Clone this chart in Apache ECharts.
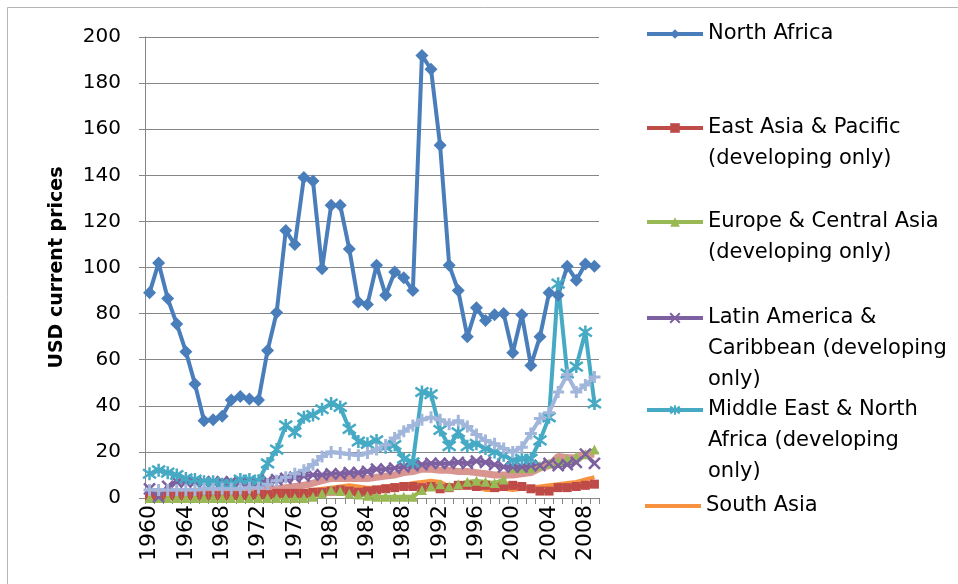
<!DOCTYPE html>
<html>
<head>
<meta charset="utf-8">
<script src="https://cdn.jsdelivr.net/npm/echarts@6/dist/echarts.min.js"></script>
<style>
  html, body { margin: 0; padding: 0; background: #fff; }
  #chart { width: 958px; height: 584px; }
</style>
</head>
<body>
<div id="chart"></div>
<script>
// years on the x axis
let years = ['1960','1961','1962','1963','1964','1965','1966','1967','1968','1969',
    '1970','1971','1972','1973','1974','1975','1976','1977','1978','1979',
    '1980','1981','1982','1983','1984','1985','1986','1987','1988','1989',
    '1990','1991','1992','1993','1994','1995','1996','1997','1998','1999',
    '2000','2001','2002','2003','2004','2005','2006','2007','2008','2009'];

let yTicks = [0, 20, 40, 60, 80, 100, 120, 140, 160, 180, 200];

// series values (USD current prices)
let northAfrica = [89, 102, 86.5, 75.5, 63.5, 49.5, 33.5, 34, 35.5, 42.5,
    44, 43, 42.5, 64, 80.5, 116, 110, 139, 137.5, 99.5,
    127, 127, 108, 85, 84, 101, 88, 98, 95.5, 90,
    192, 186, 153, 101, 90, 70, 82.5, 77, 79.5, 80,
    63, 79.5, 57.5, 70, 89, 88, 100.5, 94.5, 101.5, 100.5];
let eastAsia = [1, 0.5, 1, 1, 1, 1, 1, 1, 1, 1,
    1, 1, 1.5, 1.5, 2, 2, 2, 2, 2.5, 2.5,
    3, 3.5, 3, 2.5, 3, 3.5, 4, 4.5, 5, 5,
    4.5, 5, 4, 4.5, 5.5, 5.5, 5, 5.5, 4.5, 5,
    5.5, 5, 4, 3, 3, 4.5, 4.5, 5, 5.5, 6];
let europe = [0, 0, 0, 0, 0, 0, 0, 0, 0, 0,
    0, 0, 0, 0, 0, 0, 0, 0, 0.5, 2,
    3.5, 3, 2, 1.5, 1, 0.5, 0.5, 0.5, 0.5, 0.5,
    3.5, 5, 6, 5, 6, 7, 7.5, 7, 6.5, 8,
    13, 13, 13, 14, 15, 16, 17, 18, 19, 21];
let latinAmerica = [4, 0.5, 5, 7, 7, 7, 7, 7, 7, 7,
    7, 7, 7, 7.5, 8, 8.5, 9, 9.5, 10, 10,
    10.5, 10.5, 11, 11, 11.5, 12.5, 12.5, 13, 13.5, 14,
    14.5, 15, 15, 15, 15.5, 15, 16, 15.5, 14.5, 13.5,
    13.5, 13.5, 14, 14, 15, 14, 14.5, 15.5, 19, 15];
let middleEast = [10.5, 12, 11, 10, 8.5, 8, 7, 7, 6, 6,
    8, 8, 7.5, 15, 21, 31.5, 28.5, 35, 36, 38.5,
    41, 39.5, 30, 24.5, 23.5, 25, 22, 23, 17, 15.5,
    46, 45, 29.5, 22.5, 28.5, 22.5, 23.5, 21.5, 20, 18.5,
    16.5, 17, 17, 25, 35, 93, 54, 57, 72, 41];
let southAsia = [1.5, 1.5, 1.5, 1.5, 1.5, 1.5, 1.5, 1.5, 1.5, 1.5,
    1.5, 1.5, 2, 2, 2.5, 2.5, 3, 3, 3.5, 4,
    4.5, 5, 5.5, 5, 4.5, 4.5, 5, 5.5, 5.5, 6.5,
    7, 7.5, 7, 5, 5, 5.5, 4.5, 3.5, 3.5, 4,
    3.5, 4, 4.5, 5, 5.5, 6, 6.5, 7, 8, 9];
// two more series drawn in the plot but cut off from the legend
let series7 = [3.5, 3.5, 3.5, 3.5, 3.5, 3.5, 4, 4, 4, 4,
    4, 4.5, 4.5, 6, 7.5, 9, 10.5, 12, 14.5, 18,
    20, 19.5, 19, 18.5, 19.5, 21, 23, 26, 29, 31.5,
    34, 35, 34, 32, 33.5, 31, 27.5, 25, 23.5, 21.5,
    20, 22, 28, 34.5, 37, 46, 53.5, 46, 49, 52.5];
let series8 = [2, 2, 2, 2, 2.5, 2.5, 2.5, 2.5, 2.5, 2.5,
    2.5, 2.5, 3, 3.5, 4, 4.5, 5, 5.5, 6.5, 7.5,
    8.5, 8.5, 8.5, 8.5, 8.5, 9, 9.5, 10, 11, 11.5,
    12.5, 12.5, 12, 12, 11.5, 11.5, 11, 10.5, 10, 10,
    10, 10.5, 11, 13, 14, 18, 17.5, 17.5, 19, 19];

let seriesNames = ['North Africa', 'East Asia & Pacific (developing only)',
    'Europe & Central Asia (developing only)', 'Latin America & Caribbean (developing only)',
    'Middle East & North Africa (developing only)', 'South Asia'];
// legend text as it wraps in the picture
let legendLines = [
    ['North Africa'],
    ['East Asia & Pacific', '(developing only)'],
    ['Europe & Central Asia', '(developing only)'],
    ['Latin America &', 'Caribbean (developing', 'only)'],
    ['Middle East & North', 'Africa (developing', 'only)'],
    ['South Asia']
];

const FONT = '"DejaVu Sans", sans-serif';
const LH = 31;
const xSym = 'path://M0,0L10,10M10,0L0,10';
const starSym = 'path://M5,0L5,10M0,1.5L10,8.5M10,1.5L0,8.5';
const plusSym = 'path://M5,0L5,10M0,5L10,5';
const bareLine = 'path://M0,4L55,4L55,8L0,8Z';

function lineSeries(name, data, color, symbol, size, extra) {
    let s = {
        name: name,
        type: 'line',
        data: data,
        color: color,
        symbol: symbol,
        symbolSize: size,
        showSymbol: symbol !== 'none',
        showAllSymbol: true,
        lineStyle: { width: 4, color: color },
        itemStyle: { color: color },
        animation: false,
        z: 2
    };
    return Object.assign(s, extra || {});
}

function strokeSym(color, w) {
    return { itemStyle: { color: color, borderColor: color, borderWidth: w } };
}

const iconY = [34, 128, 222, 318, 410, 506];
let legends = seriesNames.map(function (name, i) {
    let n = legendLines[i].length;
    let item = { name: name };
    if (name === 'South Asia') item.icon = bareLine;
    return {
        data: [item],
        orient: 'vertical',
        left: 645,
        top: iconY[i] - (2 * n - 1) * LH / 2,
        padding: 0,
        itemWidth: 56,
        itemHeight: 12,
        itemGap: 0,
        selectedMode: false,
        lineStyle: { width: 4 },
        textStyle: { fontFamily: FONT, fontSize: 21, color: '#000', lineHeight: LH },
        formatter: function (nm) {
            let lines = legendLines[seriesNames.indexOf(nm)];
            // leading blank lines keep the first line level with the icon
            return '\n'.repeat(lines.length - 1) + lines.join('\n');
        }
    };
});

const chart = echarts.init(document.getElementById('chart'));
chart.setOption({
    backgroundColor: '#fff',
    animation: false,
    graphic: [{
        type: 'rect',
        shape: { x: 7.5, y: 7.5, width: 980, height: 620 },
        style: { fill: 'none', stroke: '#b5b5b5', lineWidth: 1 },
        silent: true
    }],
    legend: legends,
    grid: { left: 145, right: 359, top: 37, bottom: 86 },
    xAxis: {
        type: 'category',
        data: years,
        boundaryGap: true,
        axisLine: { lineStyle: { color: '#868686', width: 1 } },
        axisTick: { show: true, interval: 0, length: 6, lineStyle: { color: '#868686' } },
        axisLabel: {
            interval: 3,
            rotate: 90,
            margin: 7,
            fontFamily: FONT,
            fontSize: 22,
            color: '#000'
        }
    },
    yAxis: {
        type: 'value',
        min: yTicks[0],
        max: yTicks[yTicks.length - 1],
        interval: 20,
        name: 'USD current prices',
        nameLocation: 'middle',
        nameRotate: 90,
        nameGap: 78,
        nameTextStyle: { fontFamily: FONT, fontSize: 19, fontWeight: 'bold', color: '#000' },
        axisLine: { show: true, lineStyle: { color: '#868686', width: 1 } },
        axisTick: { show: true, length: 6, lineStyle: { color: '#868686' } },
        axisLabel: { margin: 24, fontFamily: FONT, fontSize: 20, color: '#000' },
        splitLine: { lineStyle: { color: '#868686', width: 1 } }
    },
    series: [
        lineSeries(seriesNames[0], northAfrica, '#4A7EBB', 'diamond', 13),
        lineSeries(seriesNames[1], eastAsia, '#BE4B48', 'rect', 9),
        lineSeries(seriesNames[2], europe, '#98B954', 'triangle', 10),
        lineSeries(seriesNames[3], latinAmerica, '#7D60A0', xSym, 11, strokeSym('#7D60A0', 2.5)),
        lineSeries(seriesNames[4], middleEast, '#46AAC5', starSym, 13, strokeSym('#46AAC5', 2.5)),
        lineSeries(seriesNames[5], southAsia, '#F69240', 'none', 0),
        lineSeries('Series 7', series7, '#A2B6DB', plusSym, 12, strokeSym('#A2B6DB', 3)),
        lineSeries('Series 8', series8, '#D9958F', 'none', 0, { lineStyle: { width: 7, color: '#D9958F' } })
    ]
});
</script>
</body>
</html>
